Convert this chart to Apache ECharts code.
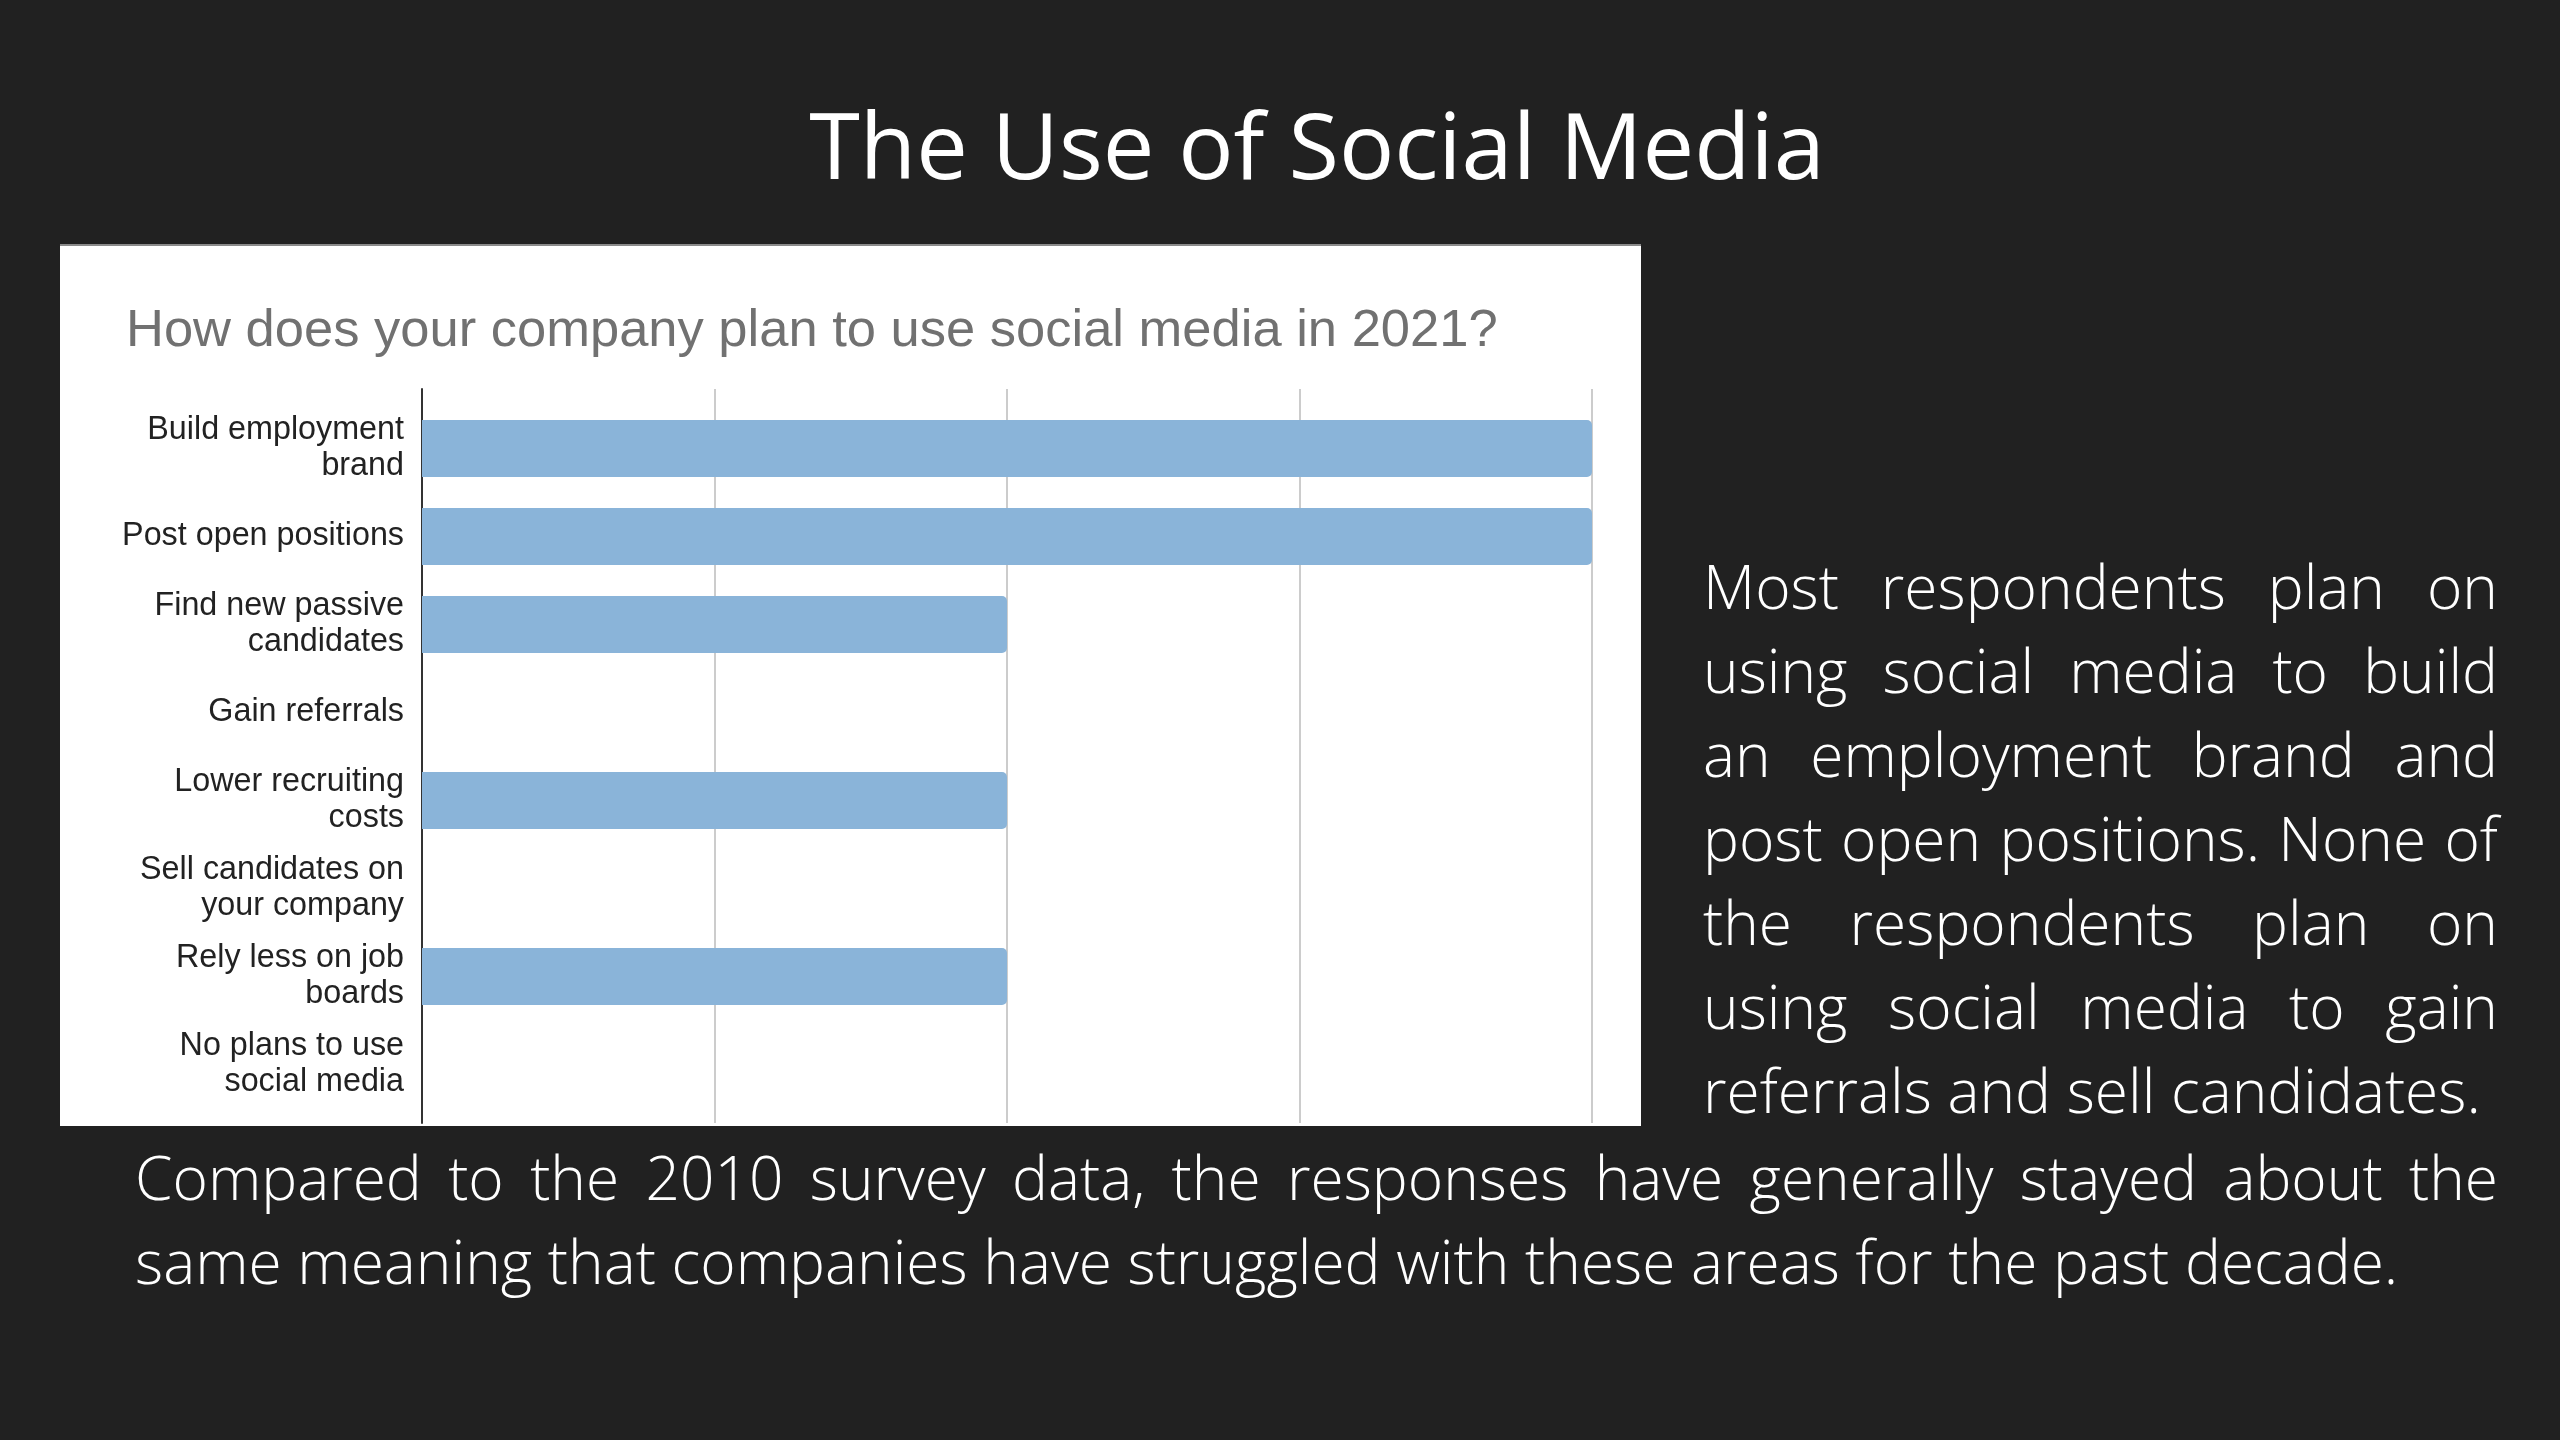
<!DOCTYPE html>
<html>
<head>
<meta charset="utf-8">
<script src="https://cdn.jsdelivr.net/npm/echarts@6/dist/echarts.min.js"></script>
<style>
  html, body { margin: 0; padding: 0; background: #212121; }
  #wrap { position: relative; width: 2560px; height: 1440px; overflow: hidden; }
  #chart { position: absolute; left: 0; top: 0; width: 2560px; height: 1440px; }
  .txt { position: absolute; color: #ffffff; font-family: "Open Sans", sans-serif; z-index: 2; }
  #mainTitle { left: 1317px; top: 98px; transform: translateX(-50%); font-size: 92px; line-height: 92px; white-space: nowrap; font-weight: 400; }
  .para { font-size: 60.4px; line-height: 84px; font-weight: 300; }
  .para div { text-align: justify; text-align-last: justify; white-space: nowrap; }
  .para div.last { text-align: left; text-align-last: left; }
  #rightPara { left: 1703px; top: 544px; width: 795px; }
  #bottomPara { left: 135px; top: 1135px; width: 2363px; }
</style>
</head>
<body>
<div id="wrap">
  <div id="chart"></div>
  <div class="txt" id="mainTitle">The Use of Social Media</div>
  <div class="txt para" id="rightPara">
    <div>Most respondents plan on</div>
    <div>using social media to build</div>
    <div>an employment brand and</div>
    <div>post open positions. None of</div>
    <div>the respondents plan on</div>
    <div>using social media to gain</div>
    <div class="last">referrals and sell candidates.</div>
  </div>
  <div class="txt para" id="bottomPara">
    <div>Compared to the 2010 survey data, the responses have generally stayed about the</div>
    <div class="last">same meaning that companies have struggled with these areas for the past decade.</div>
  </div>
</div>
<script>
// ---- data ----
const chartTitle = 'How does your company plan to use social media in 2021?';
const categories = [
  'Build employment\nbrand',
  'Post open positions',
  'Find new passive\ncandidates',
  'Gain referrals',
  'Lower recruiting\ncosts',
  'Sell candidates on\nyour company',
  'Rely less on job\nboards',
  'No plans to use\nsocial media'
];
const values = [2, 2, 1, 0, 1, 0, 1, 0];
const axisMin = 0;
const axisMax = 2;
const axisInterval = 0.5;

const chart = echarts.init(document.getElementById('chart'), null, { renderer: 'canvas' });
chart.setOption({
  backgroundColor: '#212121',
  animation: false,
  graphic: [
    { type: 'rect', shape: { x: 60, y: 245, width: 1581, height: 881 }, style: { fill: '#ffffff' }, z: -10 },
    { type: 'rect', shape: { x: 60, y: 244, width: 1581, height: 2 }, style: { fill: '#8a8a8a' }, z: -9 }
  ],
  title: {
    text: chartTitle,
    left: 121,
    top: 300,
    textStyle: { fontFamily: 'Liberation Sans, Arial, sans-serif', fontSize: 52.5, fontWeight: 'normal', color: '#717171' }
  },
  grid: [
    { left: 422, width: 1170, top: 404.5, height: 704 },
    { left: 422, width: 1170, top: 389, height: 734 }
  ],
  xAxis: [
    { type: 'value', gridIndex: 0, min: axisMin, max: axisMax, interval: axisInterval,
      axisLine: { show: false }, axisTick: { show: false }, axisLabel: { show: false }, splitLine: { show: false } },
    { type: 'value', gridIndex: 1, min: axisMin, max: axisMax, interval: axisInterval,
      axisLine: { show: false }, axisTick: { show: false }, axisLabel: { show: false },
      splitLine: { show: true, lineStyle: { color: '#cccccc', width: 2 } } }
  ],
  yAxis: [
    { type: 'category', gridIndex: 0, data: categories, inverse: true,
      axisLine: { show: false }, axisTick: { show: false },
      axisLabel: { color: '#222222', fontFamily: 'Liberation Sans, Arial, sans-serif', fontSize: 32.3, lineHeight: 36, margin: 18 } },
    { type: 'value', gridIndex: 1, min: 0, max: 1,
      axisLine: { show: true, lineStyle: { color: '#333333', width: 2 } },
      axisTick: { show: false }, axisLabel: { show: false }, splitLine: { show: false } }
  ],
  series: [
    { type: 'bar', xAxisIndex: 0, yAxisIndex: 0, data: values, barWidth: 57,
      itemStyle: { color: '#8ab4d9', borderRadius: [0, 5, 5, 0] }, z: 3 }
  ]
});
</script>
</body>
</html>
